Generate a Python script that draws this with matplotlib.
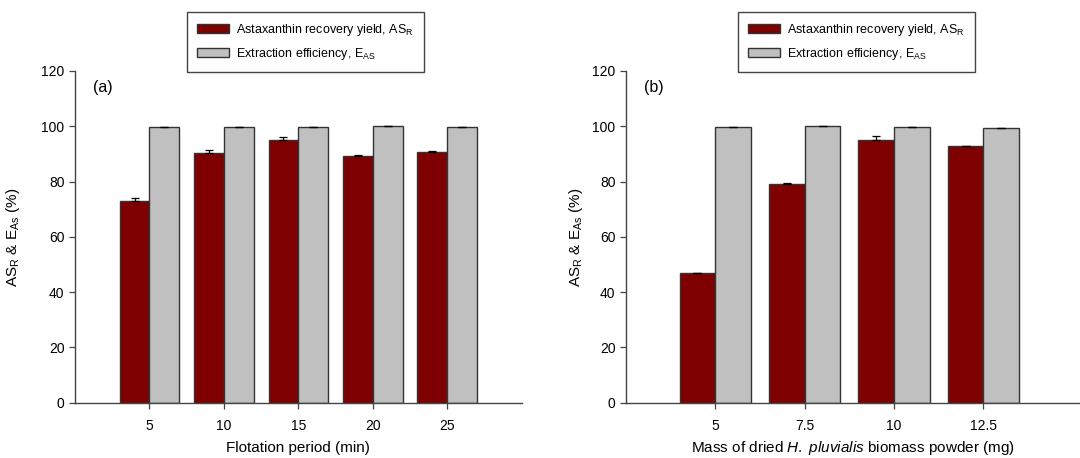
import numpy as np
import matplotlib
matplotlib.use("Agg")
import matplotlib.pyplot as plt

plt.rcParams['font.family'] = ['Liberation Sans', 'DejaVu Sans']
plt.rcParams['mathtext.fontset'] = 'custom'
plt.rcParams['mathtext.rm'] = 'Liberation Sans'
plt.rcParams['mathtext.it'] = 'Liberation Sans:italic'
plt.rcParams['mathtext.default'] = 'regular'

# (a) flotation period
period = [5, 10, 15, 20, 25]
asr_a = [73.0, 90.3, 95.0, 89.3, 90.6]
asr_a_err = [1.1, 1.3, 1.3, 0.2, 0.3]
eas_a = [99.7, 99.7, 99.8, 100.1, 99.8]
eas_a_err = [0.1, 0.1, 0.1, 0.1, 0.1]

# (b) biomass mass
mass = [5, 7.5, 10, 12.5]
asr_b = [46.8, 79.2, 95.0, 92.7]
asr_b_err = [0.2, 0.3, 1.4, 0.3]
eas_b = [99.7, 100.0, 99.8, 99.4]
eas_b_err = [0.1, 0.1, 0.1, 0.1]

red = '#7f0000'
grey = '#c0c0c0'
edge = '#333333'

fig = plt.figure(figsize=(10.8, 4.58), dpi=100)
ax_a = fig.add_axes([75/1080, 1-402.7/458, (521.7-75)/1080, (402.7-71)/458])
ax_b = fig.add_axes([626/1080, 1-402.7/458, (1080-626)/1080, (402.7-71)/458])


def draw(ax, x, r, rerr, g, gerr, w, xlim, xlabel, tag, leg_center):
    x = np.array(x, dtype=float)
    b1 = ax.bar(x - w/2, r, width=w, color=red, edgecolor=edge, linewidth=1.0,
                label='Astaxanthin recovery yield, AS$_R$')
    b2 = ax.bar(x + w/2, g, width=w, color=grey, edgecolor=edge, linewidth=1.0,
                label='Extraction efficiency, E$_{AS}$')
    ax.errorbar(x - w/2, r, yerr=[np.zeros(len(r)), rerr], fmt='none',
                ecolor='black', elinewidth=0.9, capsize=3, capthick=0.9)
    ax.errorbar(x + w/2, g, yerr=[np.zeros(len(g)), gerr], fmt='none',
                ecolor='black', elinewidth=0.9, capsize=3, capthick=0.9)
    ax.set_xlim(*xlim)
    ax.set_ylim(0, 120)
    ax.set_yticks([0, 20, 40, 60, 80, 100, 120])
    ax.set_xticks(x)
    ax.set_xticklabels([f'{v:g}' for v in x])
    for s in ['top', 'right']:
        ax.spines[s].set_visible(False)
    for s in ['left', 'bottom']:
        ax.spines[s].set_color('#444444')
        ax.spines[s].set_linewidth(1.0)
    ax.tick_params(axis='both', direction='out', length=4, width=0.9,
                   color='#444444', labelsize=10)
    ax.tick_params(axis='x', pad=8)
    ax.set_xlabel(xlabel, fontsize=11)
    ax.xaxis.set_label_coords(0.5, (402.7-448)/331.7)
    ax.xaxis.label.set_va('center')
    ax.set_ylabel('AS$_R$ & E$_{As}$ (%)', fontsize=11)
    ax.text(0.04, 0.95, tag, transform=ax.transAxes, fontsize=11.5,
            va='center', ha='left')
    leg = ax.legend(handles=[b1, b2], loc='center', bbox_to_anchor=leg_center,
                    bbox_transform=fig.transFigure, fontsize=9,
                    fancybox=False, framealpha=1, edgecolor='#444444',
                    handlelength=2.5, handleheight=0.75, handletextpad=0.6,
                    borderpad=0.8, labelspacing=0.65)
    leg.get_frame().set_linewidth(1.0)


draw(ax_a, period, asr_a, asr_a_err, eas_a, eas_a_err, 2.0, (0, 30),
     'Flotation period (min)', '(a)', (305.5/1080, 1-42/458))
draw(ax_b, mass, asr_b, asr_b_err, eas_b, eas_b_err, 1.0, (2.5, 15.2),
     'Mass of dried $\\it{H.}$ $\\it{pluvialis}$ biomass powder (mg)', '(b)',
     (856.5/1080, 1-42/458))

ax_a.yaxis.set_label_coords(-(75-22)/(521.7-75), 0.5)
ax_b.yaxis.set_label_coords(-(626-585)/(1080-626), 0.5)

fig.savefig('out.png', dpi=100)
